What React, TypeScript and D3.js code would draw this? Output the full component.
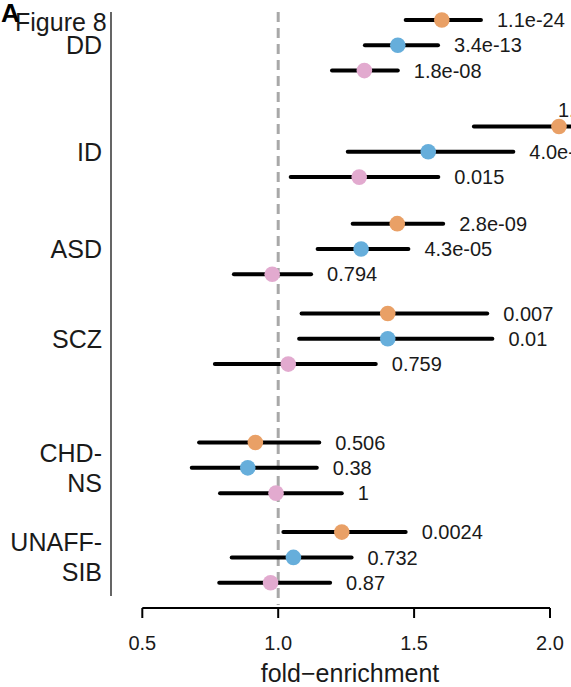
import React from "react";
import * as d3 from "d3";

// ---- data ----
const categories = ["DD", "ID", "ASD", "SCZ", "CHD-NS", "UNAFF-SIB"];
// vertical position of each category on the (continuous) y axis, in row units
const categoryPos = [0, 4.21, 8.05, 11.6, 16.7, 20.24];

const seriesNames = ["set1", "set2", "set3"];
const seriesColors = ["#E9A066", "#66AEDB", "#E2AACF"];

const set1Est = [1.602, 2.033, 1.438, 1.403, 0.916, 1.234];
const set1Lo = [1.469, 1.72, 1.274, 1.086, 0.709, 1.019];
const set1Hi = [1.746, 2.35, 1.607, 1.769, 1.151, 1.469];
const set1P = ["1.1e-24", "1.2e-15", "2.8e-09", "0.007", "0.506", "0.0024"];

const set2Est = [1.44, 1.552, 1.305, 1.403, 0.888, 1.056];
const set2Lo = [1.319, 1.256, 1.145, 1.077, 0.682, 0.829];
const set2Hi = [1.588, 1.865, 1.479, 1.788, 1.142, 1.27];
const set2P = ["3.4e-13", "4.0e-08", "4.3e-05", "0.01", "0.38", "0.732"];

const set3Est = [1.317, 1.298, 0.978, 1.037, 0.992, 0.972];
const set3Lo = [1.198, 1.046, 0.837, 0.767, 0.786, 0.783];
const set3Hi = [1.44, 1.589, 1.121, 1.359, 1.234, 1.191];
const set3P = ["1.8e-08", "0.015", "0.794", "0.759", "1", "0.87"];

const xTicks = [0.5, 1.0, 1.5, 2.0];
const refLine = 1;

const W = 571;
const H = 687;
const FONT = "'Liberation Sans', Arial, Helvetica, sans-serif";

export default function App() {
  const x = d3.scaleLinear().domain([0.5, 2.0]).range([142.3, 550]);
  const y = d3.scaleLinear().domain([0, 20.24]).range([45.3, 557.4]);
  const rowStep = 1; // offset between series within a category (row units)

  const series = [
    { est: set1Est, lo: set1Lo, hi: set1Hi, p: set1P },
    { est: set2Est, lo: set2Lo, hi: set2Hi, p: set2P },
    { est: set3Est, lo: set3Lo, hi: set3Hi, p: set3P },
  ];

  const points = [];
  series.forEach((s, si) => {
    categories.forEach((c, ci) => {
      points.push({
        key: `${si}-${ci}`,
        color: seriesColors[si],
        yv: categoryPos[ci] + (si - 1) * rowStep,
        est: s.est[ci],
        lo: s.lo[ci],
        hi: s.hi[ci],
        p: s.p[ci],
      });
    });
  });

  const axisY = 608;
  const yTop = y(-1.32);
  const yBottom = y(21.77);
  const fsCat = 25;
  const fsP = 20;

  return (
    <svg
      width={W}
      height={H}
      style={{ position: "absolute", left: 0, top: 0, background: "#fff" }}
      fontFamily={FONT}
    >
      <rect x={0} y={0} width={W} height={H} fill="#fff" />
      {/* reference line */}
      <line
        x1={x(refLine)}
        x2={x(refLine)}
        y1={yTop}
        y2={605}
        stroke="#A8A8A8"
        strokeWidth={3}
        strokeDasharray="10,6"
      />
      {/* y axis line */}
      <line x1={111} x2={111} y1={yTop} y2={yBottom} stroke="#555" strokeWidth={1.8} />

      {/* category labels */}
      {categories.map((c, ci) => {
        const parts = c.includes("-") ? [c.split("-")[0] + "-", c.split("-")[1]] : [c];
        const cy = y(categoryPos[ci]);
        const lh = 30;
        return (
          <text
            key={c}
            textAnchor="end"
            fontSize={fsCat}
            fill="#1a1a1a"
          >
            {parts.map((t, i) => (
              <tspan
                key={i}
                x={102}
                y={cy + (i - (parts.length - 1) / 2) * lh + 0.358 * fsCat}
              >
                {t}
              </tspan>
            ))}
          </text>
        );
      })}

      {/* CI lines */}
      {points.map((d) => (
        <line
          key={"l" + d.key}
          x1={x(d.lo)}
          x2={x(d.hi)}
          y1={y(d.yv)}
          y2={y(d.yv)}
          stroke="#000"
          strokeWidth={4}
          strokeLinecap="round"
        />
      ))}
      {/* points */}
      {points.map((d) => (
        <circle key={"c" + d.key} cx={x(d.est)} cy={y(d.yv)} r={7.8} fill={d.color} />
      ))}
      {/* p-value labels */}
      {points.map((d) => {
        const off = x(d.hi) > W;
        const tx = off ? x(d.est) - 1 : x(d.hi) + 16;
        const ty = off ? y(d.yv) - 17 : y(d.yv);
        return (
          <text
            key={"t" + d.key}
            x={tx}
            y={ty + 0.358 * fsP}
            fontSize={fsP}
            fill="#1a1a1a"
          >
            {d.p}
          </text>
        );
      })}

      {/* x axis */}
      <line x1={x(0.5)} x2={x(2.0)} y1={axisY} y2={axisY} stroke="#000" strokeWidth={2} />
      {xTicks.map((t) => (
        <g key={t}>
          <line x1={x(t)} x2={x(t)} y1={axisY} y2={axisY + 10} stroke="#000" strokeWidth={2} />
          <text x={x(t)} y={650} textAnchor="middle" fontSize={20} fill="#1a1a1a">
            {d3.format(".1f")(t)}
          </text>
        </g>
      ))}
      <text x={350} y={681.5} textAnchor="middle" fontSize={25} fill="#1a1a1a">
        fold−enrichment
      </text>

      {/* titles */}
      <text x={15} y={31} fontSize={25} fill="#1a1a1a">
        Figure 8
      </text>
      <text x={1} y={21.5} fontSize={26} fontWeight="bold" fill="#000">
        A
      </text>
    </svg>
  );
}
